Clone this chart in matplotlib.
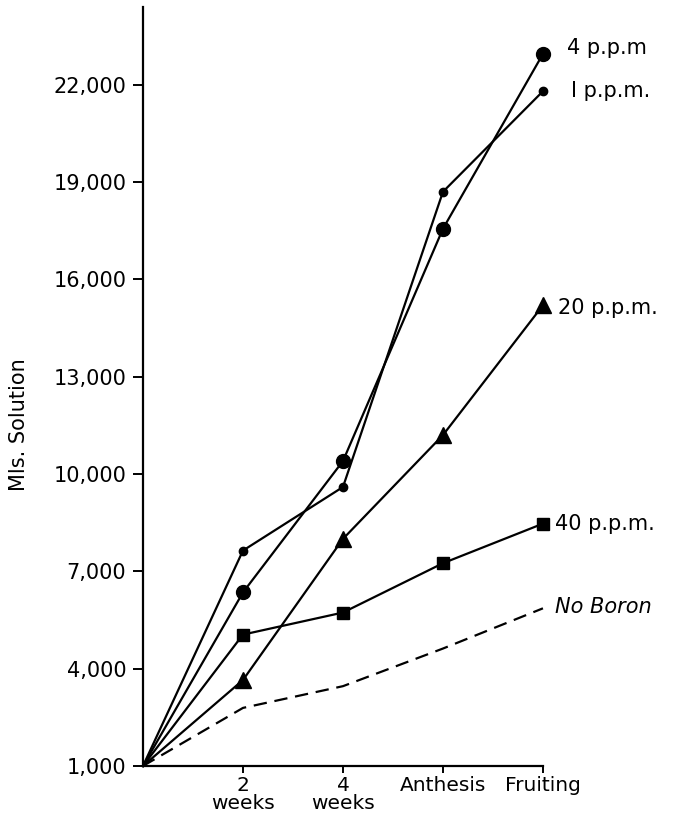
import matplotlib.pyplot as plt

# стадии роста
stages = ['2\nweeks', '4\nweeks', 'Anthesis', 'Fruiting']
x_pos = [0, 1, 2, 3, 4]

# мл раствора по концентрации бора
ppm1 = [1000, 7640, 9600, 18700, 21800]
ppm4 = [1000, 6350, 10400, 17560, 22950]
ppm20 = [1000, 3650, 8000, 11200, 15200]
ppm40 = [1000, 5050, 5730, 7250, 8470]
no_boron = [1000, 2790, 3460, 4620, 5860]

y_ticks = [1000, 4000, 7000, 10000, 13000, 16000, 19000, 22000]

plt.rcParams['font.family'] = 'DejaVu Sans'

fig = plt.figure(figsize=(6.77, 8.18), dpi=100)
ax = fig.add_axes([0.2112, 0.0636, 0.5908, 0.928])

# в начале координат маркеров нет
skip0 = slice(1, None)
ax.plot(x_pos, ppm1, color='black', lw=1.6, marker='o', ms=6, markevery=skip0, clip_on=False)
ax.plot(x_pos, ppm4, color='black', lw=1.6, marker='o', ms=10, markevery=skip0, clip_on=False)
ax.plot(x_pos, ppm20, color='black', lw=1.6, marker='^', ms=11, markevery=skip0, clip_on=False)
ax.plot(x_pos, ppm40, color='black', lw=1.6, marker='s', ms=9, markevery=skip0, clip_on=False)
ax.plot(x_pos, no_boron, color='black', lw=1.6, ls=(0, (6, 3.5)), clip_on=False)

labels = [
    ('4 p.p.m', ppm4, (17, 4), 'normal'),
    ('I p.p.m.', ppm1, (20, 0), 'normal'),
    ('20 p.p.m.', ppm20, (11, -2), 'normal'),
    ('40 p.p.m.', ppm40, (9, 0), 'normal'),
    ('No Boron', no_boron, (9, 1), 'italic'),
]
for text, series, off, style in labels:
    ax.annotate(text, (4, series[-1]), xytext=off, textcoords='offset points',
                fontsize=15, va='center', ha='left', style=style,
                annotation_clip=False)

ax.set_xlim(0, 4)
ax.set_ylim(1000, 24400)
ax.set_xticks(x_pos[1:])
ax.set_xticklabels(stages, fontsize=14.5, linespacing=0.95)
ax.set_yticks(y_ticks)
ax.set_yticklabels([f'{v:,}' for v in y_ticks], fontsize=15)
ax.set_ylabel('Mls. Solution', fontsize=15)
ax.yaxis.set_label_coords(-0.285, 0.45)

for side in ['top', 'right']:
    ax.spines[side].set_visible(False)
for side in ['left', 'bottom']:
    ax.spines[side].set_linewidth(1.6)
ax.tick_params(axis='y', length=7, width=1.4, pad=5)
ax.tick_params(axis='x', length=5, width=1.4, pad=2)

fig.savefig('out.png', dpi=100)
